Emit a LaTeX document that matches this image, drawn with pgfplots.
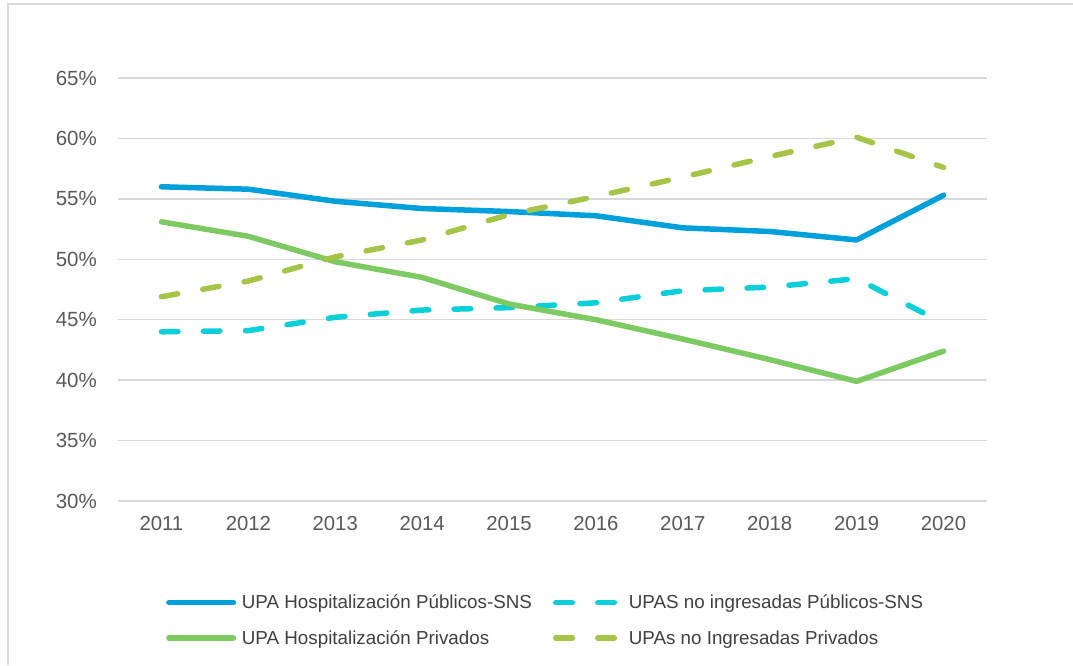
\documentclass[border=0pt]{standalone}
\usepackage{pgfplots}
\pgfplotsset{compat=1.18}
\usepackage{fontspec}
\setmainfont{Liberation Sans}
\definecolor{cblue}{RGB}{0,160,218}
\definecolor{ccyan}{RGB}{12,208,217}
\definecolor{cgreen}{RGB}{125,202,98}
\definecolor{colive}{RGB}{165,196,72}
\definecolor{cgrid}{RGB}{217,217,217}
\definecolor{ctick}{RGB}{89,89,89}
\definecolor{ctext}{RGB}{64,64,64}
\begin{document}
\begin{tikzpicture}[x=1pt,y=1pt]
\useasboundingbox (0,0) rectangle (1073,665);
\draw[cgrid, line width=1.5pt] (8,0) -- (8,661) -- (1073,661);
\begin{axis}[
  at={(118pt,164pt)}, anchor=south west,
  scale only axis, width=869pt, height=423pt,
  xmin=2010.5, xmax=2020.5, ymin=30, ymax=65,
  xtick={2011,...,2020}, ytick={30,35,...,65},
  xticklabel style={font=\fontsize{20.3}{24}\selectfont, text=ctick, inner sep=0pt, yshift=-15pt, anchor=north},
  xticklabel={\pgfmathprintnumber[set thousands separator={}]{\tick}},
  yticklabel={\pgfmathprintnumber{\tick}\%},
  yticklabel style={font=\fontsize{20.5}{24}\selectfont, text=ctick, inner sep=0pt, xshift=-21pt, anchor=east},
  /pgf/number format/assume math mode=true,
  major tick length=0pt,
  axis line style={draw=none},
  ymajorgrids, grid style={cgrid, line width=1.5pt},
  legend columns=2,
  legend style={at={(0.0552,-0.2147)}, anchor=north west, draw=none, fill=none, inner sep=0pt,
    font=\fontsize{18.8}{22}\selectfont, text=ctext,
    nodes={inner sep=3pt},
    /tikz/every even column/.append style={column sep=18pt},
    row sep=14pt},
  legend cell align=left,
  legend image code/.code={\draw[#1] (2.75pt,0pt) -- (67.25pt,0pt); \path (70pt,0pt);},
]
\addplot[cblue, line width=5.5pt, line cap=round, line join=round] coordinates {
(2011,56.0) (2012,55.8) (2013,54.8) (2014,54.2) (2015,53.95) (2016,53.6) (2017,52.6) (2018,52.3) (2019,51.6) (2020,55.3)};
\addlegendentry{UPA Hospitalización Públicos-SNS}
\addplot[ccyan, line width=5.5pt, line cap=round, line join=round, dash pattern=on 16.5pt off 25.5pt] coordinates {
(2011,44.0) (2012,44.1) (2013,45.2) (2014,45.8) (2015,46.0) (2016,46.4) (2017,47.4) (2018,47.7) (2019,48.4) (2020,44.7)};
\addlegendentry{UPAS no ingresadas Públicos-SNS}
\addplot[cgreen, line width=5.5pt, line cap=round, line join=round] coordinates {
(2011,53.1) (2012,51.9) (2013,49.8) (2014,48.5) (2015,46.3) (2016,45.0) (2017,43.4) (2018,41.7) (2019,39.9) (2020,42.4)};
\addlegendentry{UPA Hospitalización Privados}
\addplot[colive, line width=5.5pt, line cap=round, line join=round, dash pattern=on 16.5pt off 25.5pt] coordinates {
(2011,46.9) (2012,48.2) (2013,50.2) (2014,51.6) (2015,53.7) (2016,55.2) (2017,56.8) (2018,58.5) (2019,60.1) (2020,57.6)};
\addlegendentry{UPAs no Ingresadas Privados}
\end{axis}
\end{tikzpicture}
\end{document}
